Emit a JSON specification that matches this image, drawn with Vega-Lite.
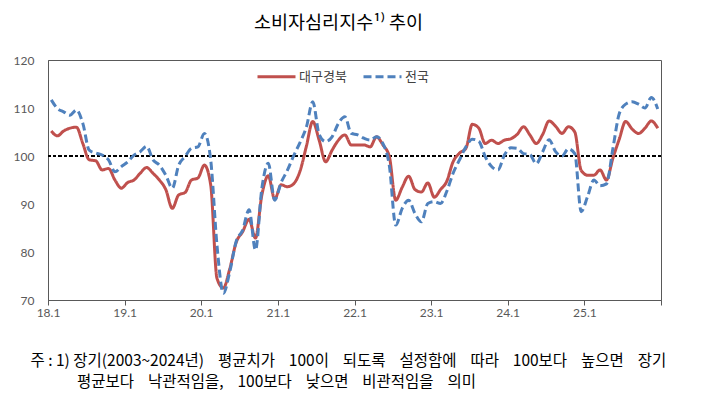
{
"$schema": "https://vega.github.io/schema/vega-lite/v6.json",
"width": 613, "height": 240,
"autosize": {"type": "none"},
"padding": {"left": 48, "top": 60, "right": 49, "bottom": 99},
"background": "white",
"title": {"text": "소비자심리지수¹⁾ 추이", "anchor": "middle", "frame": "group", "dx": -16, "offset": 3, "baseline": "bottom", "fontSize": 18.5, "font": "Noto Sans CJK KR", "fontWeight": "normal", "color": "#000000"},
"config": {"view": {"stroke": "#595959", "strokeWidth": 1}},
"datasets": {
"trend": [
{"month":"2018-01","region":"대구경북","index":105.2},{"month":"2018-02","region":"대구경북","index":104.2},{"month":"2018-03","region":"대구경북","index":105.2},{"month":"2018-04","region":"대구경북","index":105.8},{"month":"2018-05","region":"대구경북","index":106.0},{"month":"2018-06","region":"대구경북","index":102.6},{"month":"2018-07","region":"대구경북","index":99.2},{"month":"2018-08","region":"대구경북","index":99.0},{"month":"2018-09","region":"대구경북","index":97.1},{"month":"2018-10","region":"대구경북","index":97.4},{"month":"2018-11","region":"대구경북","index":95.0},{"month":"2018-12","region":"대구경북","index":93.3},
{"month":"2019-01","region":"대구경북","index":94.5},{"month":"2019-02","region":"대구경북","index":95.0},{"month":"2019-03","region":"대구경북","index":96.4},{"month":"2019-04","region":"대구경북","index":97.6},{"month":"2019-05","region":"대구경북","index":96.4},{"month":"2019-06","region":"대구경북","index":95.0},{"month":"2019-07","region":"대구경북","index":93.0},{"month":"2019-08","region":"대구경북","index":89.1},{"month":"2019-09","region":"대구경북","index":91.9},{"month":"2019-10","region":"대구경북","index":92.4},{"month":"2019-11","region":"대구경북","index":95.0},{"month":"2019-12","region":"대구경북","index":95.4},
{"month":"2020-01","region":"대구경북","index":98.1},{"month":"2020-02","region":"대구경북","index":94.0},{"month":"2020-03","region":"대구경북","index":74.5},{"month":"2020-04","region":"대구경북","index":72.5},{"month":"2020-05","region":"대구경북","index":76.5},{"month":"2020-06","region":"대구경북","index":82.0},{"month":"2020-07","region":"대구경북","index":84.2},{"month":"2020-08","region":"대구경북","index":86.8},{"month":"2020-09","region":"대구경북","index":82.9},{"month":"2020-10","region":"대구경북","index":91.9},{"month":"2020-11","region":"대구경북","index":95.9},{"month":"2020-12","region":"대구경북","index":91.0},
{"month":"2021-01","region":"대구경북","index":94.0},{"month":"2021-02","region":"대구경북","index":93.6},{"month":"2021-03","region":"대구경북","index":94.2},{"month":"2021-04","region":"대구경북","index":96.8},{"month":"2021-05","region":"대구경북","index":102.0},{"month":"2021-06","region":"대구경북","index":107.2},{"month":"2021-07","region":"대구경북","index":103.3},{"month":"2021-08","region":"대구경북","index":98.8},{"month":"2021-09","region":"대구경북","index":101.2},{"month":"2021-10","region":"대구경북","index":103.3},{"month":"2021-11","region":"대구경북","index":104.4},{"month":"2021-12","region":"대구경북","index":102.3},
{"month":"2022-01","region":"대구경북","index":102.3},{"month":"2022-02","region":"대구경북","index":102.3},{"month":"2022-03","region":"대구경북","index":101.9},{"month":"2022-04","region":"대구경북","index":104.0},{"month":"2022-05","region":"대구경북","index":102.3},{"month":"2022-06","region":"대구경북","index":99.9},{"month":"2022-07","region":"대구경북","index":90.8},{"month":"2022-08","region":"대구경북","index":93.5},{"month":"2022-09","region":"대구경북","index":95.8},{"month":"2022-10","region":"대구경북","index":93.0},{"month":"2022-11","region":"대구경북","index":92.5},{"month":"2022-12","region":"대구경북","index":94.4},
{"month":"2023-01","region":"대구경북","index":91.4},{"month":"2023-02","region":"대구경북","index":93.0},{"month":"2023-03","region":"대구경북","index":94.7},{"month":"2023-04","region":"대구경북","index":98.8},{"month":"2023-05","region":"대구경북","index":100.6},{"month":"2023-06","region":"대구경북","index":101.6},{"month":"2023-07","region":"대구경북","index":106.6},{"month":"2023-08","region":"대구경북","index":105.8},{"month":"2023-09","region":"대구경북","index":102.6},{"month":"2023-10","region":"대구경북","index":103.3},{"month":"2023-11","region":"대구경북","index":102.6},{"month":"2023-12","region":"대구경북","index":103.3},
{"month":"2024-01","region":"대구경북","index":103.6},{"month":"2024-02","region":"대구경북","index":104.5},{"month":"2024-03","region":"대구경북","index":106.1},{"month":"2024-04","region":"대구경북","index":104.4},{"month":"2024-05","region":"대구경북","index":102.6},{"month":"2024-06","region":"대구경북","index":104.5},{"month":"2024-07","region":"대구경북","index":107.3},{"month":"2024-08","region":"대구경북","index":106.2},{"month":"2024-09","region":"대구경북","index":104.7},{"month":"2024-10","region":"대구경북","index":106.1},{"month":"2024-11","region":"대구경북","index":105.0},{"month":"2024-12","region":"대구경북","index":97.0},
{"month":"2025-01","region":"대구경북","index":96.0},{"month":"2025-02","region":"대구경북","index":96.0},{"month":"2025-03","region":"대구경북","index":97.1},{"month":"2025-04","region":"대구경북","index":95.0},{"month":"2025-05","region":"대구경북","index":99.5},{"month":"2025-06","region":"대구경북","index":103.5},{"month":"2025-07","region":"대구경북","index":107.2},{"month":"2025-08","region":"대구경북","index":105.6},{"month":"2025-09","region":"대구경북","index":104.7},{"month":"2025-10","region":"대구경북","index":105.8},{"month":"2025-11","region":"대구경북","index":107.3},{"month":"2025-12","region":"대구경북","index":105.8},
{"month":"2018-01","region":"전국","index":111.7},{"month":"2018-02","region":"전국","index":109.9},{"month":"2018-03","region":"전국","index":109.2},{"month":"2018-04","region":"전국","index":108.5},{"month":"2018-05","region":"전국","index":109.6},{"month":"2018-06","region":"전국","index":106.8},{"month":"2018-07","region":"전국","index":101.2},{"month":"2018-08","region":"전국","index":100.6},{"month":"2018-09","region":"전국","index":100.2},{"month":"2018-10","region":"전국","index":99.2},{"month":"2018-11","region":"전국","index":96.7},{"month":"2018-12","region":"전국","index":97.8},
{"month":"2019-01","region":"전국","index":98.8},{"month":"2019-02","region":"전국","index":100.2},{"month":"2019-03","region":"전국","index":100.9},{"month":"2019-04","region":"전국","index":102.0},{"month":"2019-05","region":"전국","index":99.2},{"month":"2019-06","region":"전국","index":98.1},{"month":"2019-07","region":"전국","index":96.0},{"month":"2019-08","region":"전국","index":93.3},{"month":"2019-09","region":"전국","index":98.1},{"month":"2019-10","region":"전국","index":99.9},{"month":"2019-11","region":"전국","index":101.6},{"month":"2019-12","region":"전국","index":101.9},
{"month":"2020-01","region":"전국","index":104.7},{"month":"2020-02","region":"전국","index":99.2},{"month":"2020-03","region":"전국","index":81.4},{"month":"2020-04","region":"전국","index":71.4},{"month":"2020-05","region":"전국","index":75.9},{"month":"2020-06","region":"전국","index":82.2},{"month":"2020-07","region":"전국","index":84.5},{"month":"2020-08","region":"전국","index":88.8},{"month":"2020-09","region":"전국","index":80.4},{"month":"2020-10","region":"전국","index":93.3},{"month":"2020-11","region":"전국","index":98.5},{"month":"2020-12","region":"전국","index":90.8},
{"month":"2021-01","region":"전국","index":94.5},{"month":"2021-02","region":"전국","index":97.0},{"month":"2021-03","region":"전국","index":100.0},{"month":"2021-04","region":"전국","index":102.8},{"month":"2021-05","region":"전국","index":106.0},{"month":"2021-06","region":"전국","index":111.3},{"month":"2021-07","region":"전국","index":104.5},{"month":"2021-08","region":"전국","index":103.0},{"month":"2021-09","region":"전국","index":104.0},{"month":"2021-10","region":"전국","index":106.8},{"month":"2021-11","region":"전국","index":108.2},{"month":"2021-12","region":"전국","index":104.7},
{"month":"2022-01","region":"전국","index":104.4},{"month":"2022-02","region":"전국","index":103.7},{"month":"2022-03","region":"전국","index":103.3},{"month":"2022-04","region":"전국","index":104.0},{"month":"2022-05","region":"전국","index":102.6},{"month":"2022-06","region":"전국","index":98.0},{"month":"2022-07","region":"전국","index":85.6},{"month":"2022-08","region":"전국","index":89.1},{"month":"2022-09","region":"전국","index":90.8},{"month":"2022-10","region":"전국","index":88.0},{"month":"2022-11","region":"전국","index":86.3},{"month":"2022-12","region":"전국","index":90.1},
{"month":"2023-01","region":"전국","index":90.5},{"month":"2023-02","region":"전국","index":90.1},{"month":"2023-03","region":"전국","index":92.6},{"month":"2023-04","region":"전국","index":96.4},{"month":"2023-05","region":"전국","index":99.2},{"month":"2023-06","region":"전국","index":101.9},{"month":"2023-07","region":"전국","index":103.5},{"month":"2023-08","region":"전국","index":103.1},{"month":"2023-09","region":"전국","index":99.9},{"month":"2023-10","region":"전국","index":97.8},{"month":"2023-11","region":"전국","index":97.1},{"month":"2023-12","region":"전국","index":100.2},
{"month":"2024-01","region":"전국","index":101.7},{"month":"2024-02","region":"전국","index":101.6},{"month":"2024-03","region":"전국","index":100.5},{"month":"2024-04","region":"전국","index":100.3},{"month":"2024-05","region":"전국","index":98.4},{"month":"2024-06","region":"전국","index":100.9},{"month":"2024-07","region":"전국","index":103.4},{"month":"2024-08","region":"전국","index":100.9},{"month":"2024-09","region":"전국","index":100.0},{"month":"2024-10","region":"전국","index":101.5},{"month":"2024-11","region":"전국","index":100.5},{"month":"2024-12","region":"전국","index":88.4},
{"month":"2025-01","region":"전국","index":91.6},{"month":"2025-02","region":"전국","index":95.0},{"month":"2025-03","region":"전국","index":93.8},{"month":"2025-04","region":"전국","index":94.2},{"month":"2025-05","region":"전국","index":101.5},{"month":"2025-06","region":"전국","index":108.8},{"month":"2025-07","region":"전국","index":110.8},{"month":"2025-08","region":"전국","index":111.3},{"month":"2025-09","region":"전국","index":110.8},{"month":"2025-10","region":"전국","index":110.0},{"month":"2025-11","region":"전국","index":112.2},{"month":"2025-12","region":"전국","index":109.8}
]
},
"data": {"name": "trend"},
"layer": [
{
"mark": {"type": "rule", "strokeDash": [3, 2.5], "color": "#000000", "strokeWidth": 1},
"encoding": {"y": {"datum": 100, "type": "quantitative"}}
},
{
"mark": {"type": "line", "interpolate": "monotone", "strokeWidth": 3},
"encoding": {
"x": {"field": "month", "type": "temporal", "timeUnit": "utcyearmonth", "bandPosition": 0.5,
"scale": {"type": "utc", "domain": [{"year": 2018, "month": 1, "date": 1, "utc": true}, {"year": 2026, "month": 1, "date": 1, "utc": true}]},
"axis": {
"values": [{"year": 2018, "month": 1, "date": 1, "utc": true},{"year": 2019, "month": 1, "date": 1, "utc": true},{"year": 2020, "month": 1, "date": 1, "utc": true},{"year": 2021, "month": 1, "date": 1, "utc": true},{"year": 2022, "month": 1, "date": 1, "utc": true},{"year": 2023, "month": 1, "date": 1, "utc": true},{"year": 2024, "month": 1, "date": 1, "utc": true},{"year": 2025, "month": 1, "date": 1, "utc": true},{"year": 2026, "month": 1, "date": 1, "utc": true}],
"labelExpr": "utcyear(datum.value) < 2026 ? utcFormat(datum.value, '%y') + '.1' : ''",
"grid": false, "tickSize": 5, "tickColor": "#595959", "domainColor": "#595959", "domainWidth": 1,
"labelColor": "#595959", "labelFont": "Lato", "labelFontSize": 12, "labelPadding": 2, "labelFlush": false, "labelOverlap": false,
"title": ["주 : 1) 장기(2003~2024년) \u00a0\u00a0\u00a0평균치가 \u00a0\u00a0\u00a0100이 \u00a0\u00a0\u00a0되도록 \u00a0\u00a0\u00a0설정함에 \u00a0\u00a0\u00a0따라 \u00a0\u00a0\u00a0100보다 \u00a0\u00a0\u00a0높으면 \u00a0\u00a0\u00a0장기", "\u200b\u3000\u3000\u3000평균보다 \u00a0\u00a0\u00a0낙관적임을, \u00a0\u00a0\u00a0100보다 \u00a0\u00a0\u00a0낮으면 \u00a0\u00a0\u00a0비관적임을 \u00a0\u00a0\u00a0의미"],
"titleAnchor": "start", "titleAlign": "left", "titleX": -18, "titleY": 53, "titleBaseline": "top",
"titleLineHeight": 21, "titleFontSize": 15.5, "titleFontWeight": "normal", "titleColor": "#000000", "titleFont": "Noto Sans CJK KR"
}},
"y": {"field": "index", "type": "quantitative", "scale": {"domain": [70, 120], "nice": false, "zero": false},
"axis": {"values": [70, 80, 90, 100, 110, 120], "grid": false, "ticks": false, "domainColor": "#595959", "labelColor": "#595959", "labelFont": "Lato", "labelFontSize": 12, "labelPadding": 14, "title": null}},
"color": {"field": "region", "type": "nominal", "scale": {"domain": ["대구경북", "전국"], "range": ["#C0504D", "#4F81BD"]},
"legend": {"orient": "none", "legendX": 208, "legendY": -4, "direction": "horizontal", "title": null, "symbolType": "stroke", "symbolSize": 1444, "symbolStrokeWidth": 3, "labelFont": "Noto Sans CJK KR", "labelFontSize": 13, "labelColor": "#404040", "columnPadding": 10, "labelOffset": 2}},
"strokeDash": {"field": "region", "type": "nominal", "scale": {"domain": ["대구경북", "전국"], "range": [[1, 0], [8, 4]]},
"legend": {"orient": "none", "legendX": 208, "legendY": -4, "direction": "horizontal", "title": null, "symbolType": "stroke", "symbolSize": 1444, "symbolStrokeWidth": 3, "labelFont": "Noto Sans CJK KR", "labelFontSize": 13, "labelColor": "#404040", "columnPadding": 10, "labelOffset": 2}}
}
}
]
}
